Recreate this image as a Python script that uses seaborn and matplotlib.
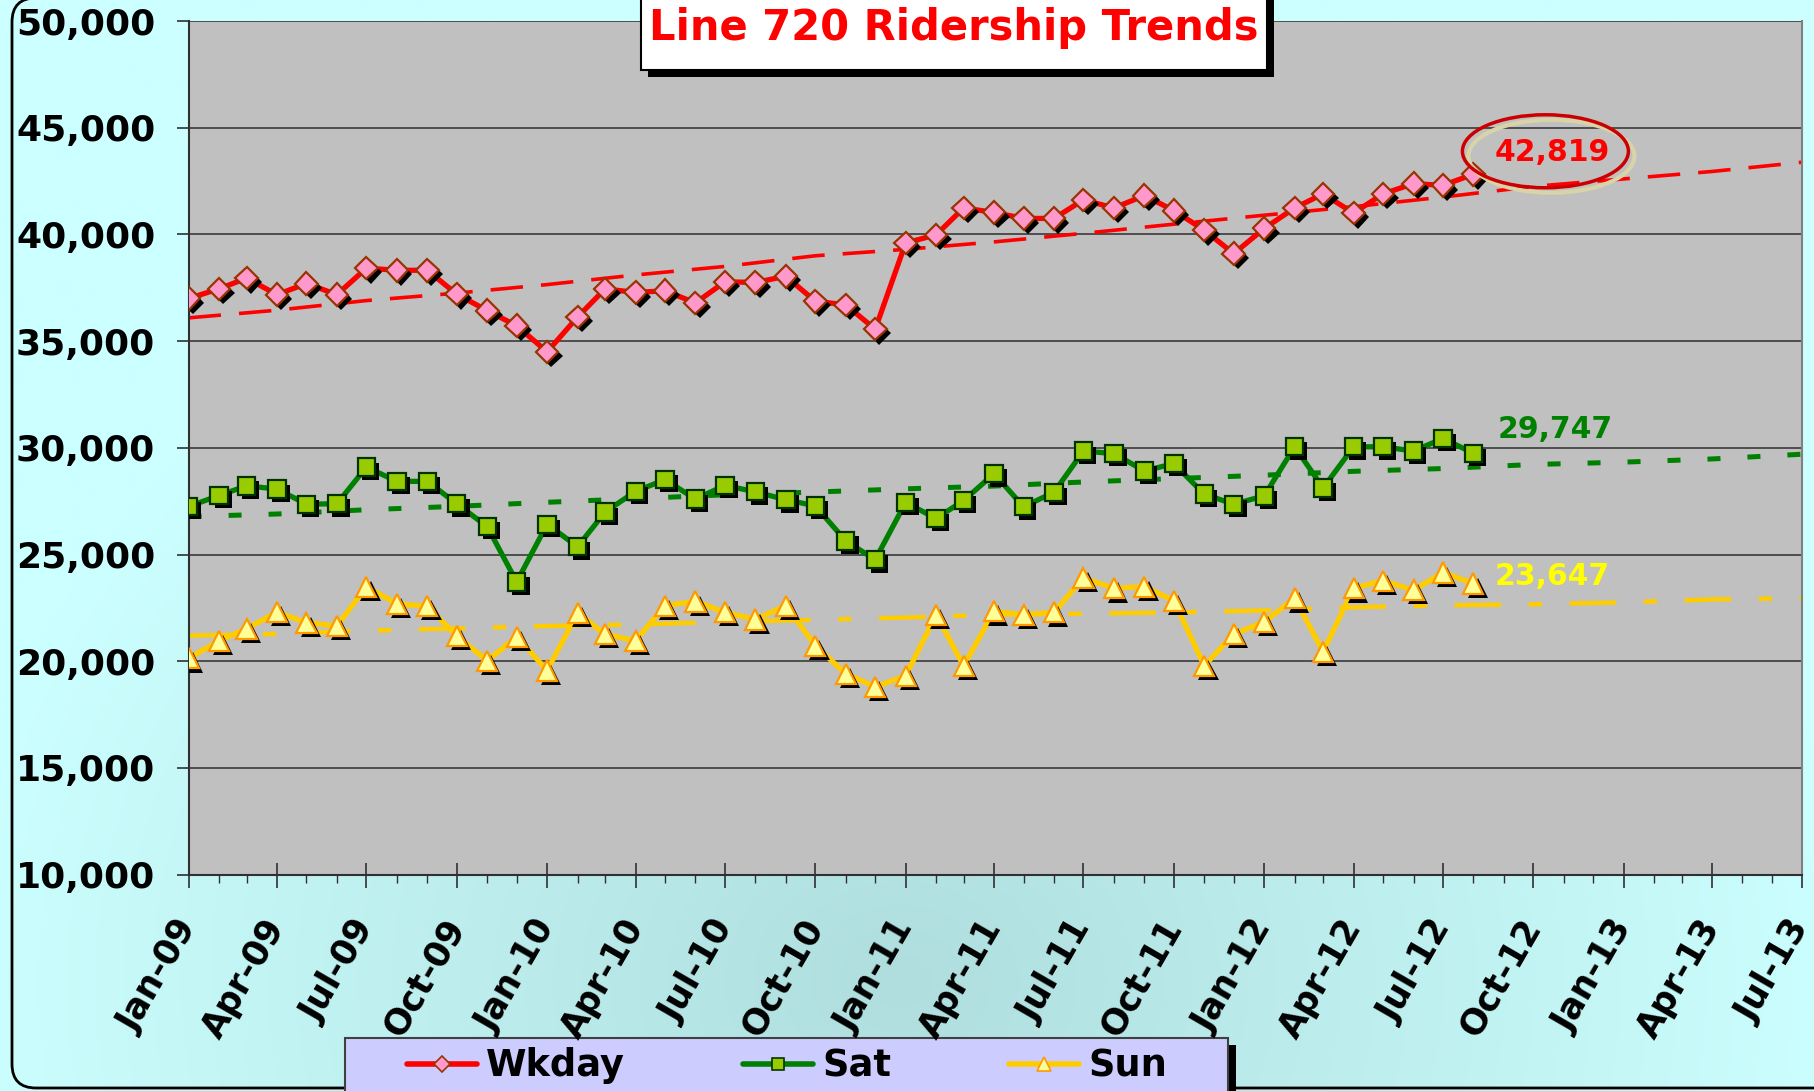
import matplotlib
matplotlib.use('Agg')
import matplotlib.pyplot as plt
import matplotlib.dates as mdates
import matplotlib.patheffects as pe
import matplotlib.transforms as mtransforms
from matplotlib.patches import Ellipse, FancyBboxPatch, Rectangle
from matplotlib.lines import Line2D
from matplotlib.ticker import FuncFormatter
import numpy as np
import pandas as pd
import seaborn as sns

sns.set_style('white')
plt.rcParams['font.family'] = ['DejaVu Sans']
plt.rcParams['font.weight'] = 'bold'
plt.rcParams['text.color'] = 'black'
plt.rcParams['xtick.color'] = 'black'
plt.rcParams['ytick.color'] = 'black'

# monthly average ridership, Jan-09 .. Aug-12
months = pd.date_range('2009-01-01', periods=44, freq='MS')
wkday = [37000, 37450, 37950, 37180, 37700, 37180, 38420, 38320, 38320, 37200, 36430, 35720,
         34500, 36130, 37450, 37280, 37360, 36790, 37780, 37750, 38040, 36870, 36700, 35560,
         39600, 39980, 41240, 41030, 40750, 40750, 41620, 41240, 41820, 41120, 40200, 39100,
         40280, 41240, 41900, 41000, 41900, 42380, 42300, 42819]
sat = [27250, 27770, 28220, 28070, 27360, 27380, 29100, 28430, 28430, 27380, 26310, 23720,
       26420, 25370, 26990, 27960, 28510, 27600, 28240, 27940, 27570, 27280, 25640, 24760,
       27440, 26690, 27530, 28790, 27240, 27920, 29850, 29730, 28920, 29260, 27830, 27360,
       27750, 30050, 28120, 30050, 30050, 29850, 30440, 29747]
sun = [20140, 20960, 21530, 22300, 21810, 21650, 23500, 22690, 22580, 21190, 20030, 21140,
       19570, 22270, 21270, 20960, 22610, 22800, 22300, 21960, 22610, 20730, 19420, 18800,
       19320, 22180, 19790, 22340, 22180, 22290, 23910, 23420, 23500, 22840, 19790, 21270,
       21850, 22950, 20450, 23420, 23780, 23330, 24160, 23647]

# trend lines (read quarterly, Jan-09 .. Jul-13)
trend_months = pd.date_range('2009-01-01', '2013-07-01', freq='3MS')
wkday_trend = [36090, 36450, 36900, 37250, 37650, 38100, 38500, 39000, 39300, 39650,
               40050, 40480, 40900, 41300, 41750, 42250, 42600, 42950, 43380]
sat_trend = [26780, 26900, 27100, 27260, 27450, 27620, 27800, 27930, 28080, 28210,
             28400, 28560, 28720, 28900, 29030, 29220, 29330, 29480, 29700]
sun_trend = [21200, 21280, 21430, 21540, 21650, 21720, 21850, 21940, 22050, 22180,
             22230, 22290, 22380, 22530, 22620, 22670, 22760, 22900, 22950]

W, H = 1814, 1091
fig = plt.figure(figsize=(W / 100, H / 100), dpi=100)

# background: soft cyan gradient and rounded border (pixel coords)
bg = fig.add_axes([0, 0, 1, 1], zorder=-10)
bg.set_xlim(0, W)
bg.set_ylim(H, 0)
bg.axis('off')
yy, xx = np.mgrid[0:H:4, 0:W:4]
d = np.clip(np.sqrt(((xx - 900) / 950) ** 2 + ((yy - 980) / 800) ** 2), 0, 1)
light = np.array([0.80, 1.0, 1.0])
dark = np.array([0.69, 0.87, 0.87])
bg.imshow(dark + (light - dark) * d[..., None], extent=(0, W, H, 0), aspect='auto',
          interpolation='bilinear')
bg.add_patch(FancyBboxPatch((12, -2), W + 60, H - 1, boxstyle='round,pad=0,rounding_size=24',
                            fc='none', ec='black', lw=2))
# legend box + shadow
bg.add_patch(Rectangle((353, 1045), 883, 80, fc='black', ec='none'))
bg.add_patch(Rectangle((345, 1038), 883, 80, fc='#CCCCFF', ec='#404040', lw=1.5))

ax = fig.add_axes([188.6 / W, 1 - 874.7 / H, (1801.5 - 188.6) / W, (874.7 - 21) / H])
ax.set_facecolor('#C0C0C0')

styles = {
    'Wkday': dict(color='#FF0000', marker='D', mfc='#FF99CC', mec='#993300', ms=11.5,
                  tls=(0, (9, 5)), tlw=2.6),
    'Sat': dict(color='#008000', marker='s', mfc='#99CC00', mec='#003300', ms=12.5,
                tls=(0, (2.6, 5.4)), tlw=3.6),
    'Sun': dict(color='#FFCC00', marker='^', mfc='#FFFF99', mec='#FF9900', ms=14.5,
                tls=(0, (10.5, 6.2, 3, 6.2)), tlw=3.2),
}
data = {'Wkday': (wkday, wkday_trend), 'Sat': (sat, sat_trend), 'Sun': (sun, sun_trend)}

shadow = [pe.SimplePatchShadow(offset=(3, -3), shadow_rgbFace='black', alpha=1.0), pe.Normal()]
for name, (vals, trend) in data.items():
    st = styles[name]
    sns.lineplot(x=trend_months, y=trend, color=st['color'], lw=st['tlw'],
                 linestyle=st['tls'], ax=ax, zorder=2)
    sns.lineplot(x=months, y=vals, color=st['color'], lw=3.8, ax=ax, zorder=3)
    ax.plot(months, vals, ls='none', marker=st['marker'], ms=st['ms'], mfc=st['mfc'],
            mec=st['mec'], mew=1.6, zorder=4, path_effects=shadow)

ax.set_xlim(mdates.date2num(pd.Timestamp('2009-01-01')), mdates.date2num(pd.Timestamp('2013-07-01')))
ax.set_ylim(10000, 50000)
ax.set_yticks(range(10000, 50001, 5000))
ax.yaxis.set_major_formatter(FuncFormatter(lambda v, p: f'{int(v):,}'))
ax.xaxis.set_major_locator(mdates.MonthLocator(bymonth=[1, 4, 7, 10]))
ax.xaxis.set_minor_locator(mdates.MonthLocator())
ax.xaxis.set_major_formatter(mdates.DateFormatter('%b-%y'))
ax.set_xlabel('')
ax.set_ylabel('')

ax.yaxis.grid(True, color='#3a3a3a', lw=1.2)
ax.xaxis.grid(False)
ax.set_axisbelow(True)
for s in ['left', 'bottom']:
    ax.spines[s].set_color('#303030')
    ax.spines[s].set_linewidth(1.5)
ax.spines['top'].set_visible(False)
ax.spines['right'].set_color('#808080')
ax.spines['right'].set_linewidth(1.5)

ax.tick_params(axis='y', which='major', direction='out', length=9, width=1.2,
               color='#303030', labelcolor='black', pad=15, labelsize=26, left=True)
ax.tick_params(axis='x', which='major', direction='inout', length=18, width=1.2,
               color='#303030', labelcolor='black', pad=25, labelsize=25, bottom=True,
               labelrotation=60)
ax.tick_params(axis='x', which='minor', direction='out', length=6, width=1,
               color='#303030', bottom=True)
for lbl in ax.get_xticklabels():
    lbl.set_ha('right')
    lbl.set_va('center')
    lbl.set_rotation_mode('anchor')

# end-of-series value labels
last = months[-1]
ax.annotate(f'{wkday[-1]:,}', xy=(last, wkday[-1]), xytext=(57, 16), textcoords='offset points',
            ha='center', va='center', color='#FF0000', fontsize=21.5, zorder=6)
ax.annotate(f'{sat[-1]:,}', xy=(last, sat[-1]), xytext=(59, 17), textcoords='offset points',
            ha='center', va='center', color='#008000', fontsize=21.5, zorder=6)
ax.annotate(f'{sun[-1]:,}', xy=(last, sun[-1]), xytext=(57, 5), textcoords='offset points',
            ha='center', va='center', color='#FFFF00', fontsize=21.5, zorder=6)

anchor = mtransforms.ScaledTranslation(mdates.date2num(last), wkday[-1], ax.transData)
ell_tr = mtransforms.IdentityTransform() + anchor
ax.add_artist(Ellipse((78, 18), 166, 73, transform=ell_tr, fc='none', ec='#D8D4A8',
                      lw=3, clip_on=False, zorder=5))
ax.add_artist(Ellipse((72, 23), 166, 73, transform=ell_tr, fc='none', ec='#CC0000',
                      lw=2.5, clip_on=False, zorder=5))

# title box
px = mtransforms.IdentityTransform()
fig.add_artist(Rectangle((648, H - 77), 626, 90, transform=px, fc='black', ec='none'))
fig.add_artist(Rectangle((641, H - 70), 626, 90, transform=px, fc='white', ec='black', lw=1.5))
fig.text(954 / W, 1 - 28 / H, 'Line 720 Ridership Trends', color='#FF0000', fontsize=30,
         fontweight='bold', ha='center', va='center')

handles = [Line2D([], [], color=styles[n]['color'], lw=4, marker=styles[n]['marker'],
                  ms=styles[n]['ms'] * 0.7, mfc=styles[n]['mfc'], mec=styles[n]['mec'], mew=1.2)
           for n in data]
fig.legend(handles, list(data), loc='center left', bbox_to_anchor=(407 / W, 1 - 1066 / H),
           ncol=3, frameon=False, fontsize=26.5, handlelength=1.9, handletextpad=0.25,
           columnspacing=3.2, borderpad=0, borderaxespad=0, labelcolor='black')

fig.savefig('out.png', dpi=100)
